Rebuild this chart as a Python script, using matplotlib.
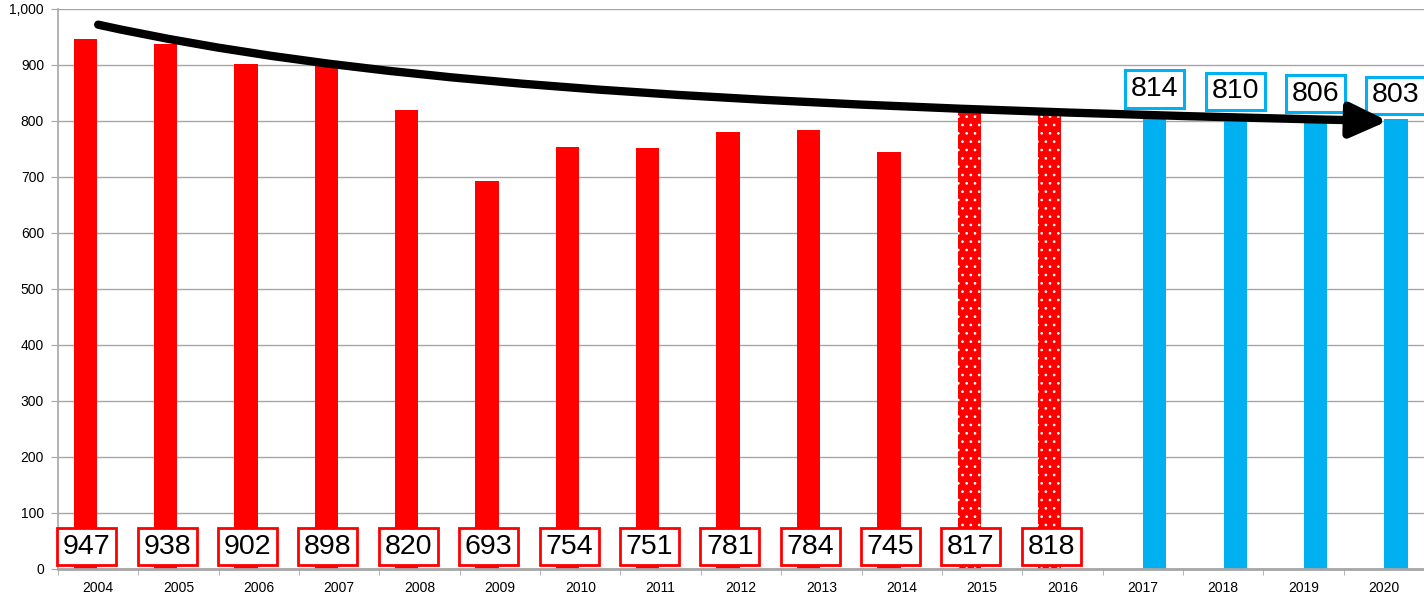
import numpy as np
import matplotlib
matplotlib.use("Agg")
from matplotlib import pyplot as plt
from matplotlib.path import Path
from matplotlib.patches import FancyArrowPatch

# yearly values: measured (red) and projected (blue)
years = ["2004", "2005", "2006", "2007", "2008", "2009", "2010", "2011", "2012",
         "2013", "2014", "2015", "2016", "2017", "2018", "2019", "2020"]
actual = [947, 938, 902, 898, 820, 693, 754, 751, 781, 784, 745, 817, 818]
forecast = [814, 810, 806, 803]
estimated_years = ["2015", "2016"]  # drawn dotted

# trend arrow anchors (start, two control points, end) in data units
trend_x = [0.0, 3.0, 7.0, 16.05]
trend_y = [972, 878, 828, 800]

RED = "#FF0000"
BLUE = "#00B0F0"
GRID = "#A6A6A6"

plt.rcParams["font.family"] = ["Liberation Sans", "DejaVu Sans"]
plt.rcParams["hatch.linewidth"] = 0.7

fig = plt.figure(figsize=(14.24, 5.97), dpi=100)
ax = fig.add_axes([58 / 1424, 28 / 597, 1366 / 1424, 560 / 597])

x = np.arange(len(years))
n_act = len(actual)
red_x = x[:n_act] - 0.16
blue_x = x[n_act:] + 0.15
w = 0.29

bars = ax.bar(red_x, actual, width=w, color=RED, zorder=2)
for b, yr in zip(bars, years[:n_act]):
    if yr in estimated_years:
        b.set_hatch("..")
        b.set_edgecolor("white")
        b.set_linewidth(0)
ax.bar(blue_x, forecast, width=w, color=BLUE, zorder=2)

# value boxes: red ones sit on the baseline, blue ones above the bars
for xi, v in zip(red_x, actual):
    ax.text(xi + 0.02, 40, str(v), ha="center", va="center", fontsize=20.5,
            color="black", zorder=5,
            bbox=dict(boxstyle="square,pad=0.2", fc="white", ec=RED, lw=2))
for xi, v in zip(blue_x, forecast):
    ax.annotate(str(v), (xi, v), xytext=(0, 8), textcoords="offset points",
                ha="center", va="bottom", fontsize=20.5, color="black", zorder=5,
                bbox=dict(boxstyle="square,pad=0.2", fc="white", ec=BLUE, lw=2.2))

# curved trend arrow
verts = list(zip(trend_x, trend_y))
trend = Path(verts, [Path.MOVETO, Path.CURVE4, Path.CURVE4, Path.CURVE4])
arrow = FancyArrowPatch(path=trend, arrowstyle="-|>,head_length=1.4,head_width=0.65",
                        mutation_scale=16, lw=6, color="black",
                        capstyle="round", joinstyle="round", zorder=6)
ax.add_patch(arrow)

ax.set_xlim(-0.5, len(years) - 0.5)
ax.set_ylim(0, 1000)
ax.set_yticks(np.arange(0, 1001, 100))
ax.yaxis.set_major_formatter(matplotlib.ticker.StrMethodFormatter("{x:,.0f}"))
ax.set_xticks(x)
ax.set_xticklabels(years)
ax.set_xticks(np.arange(-0.5, len(years), 1), minor=True)

ax.grid(axis="y", color=GRID, lw=1, zorder=0)
ax.set_axisbelow(True)
for s in ["top", "right"]:
    ax.spines[s].set_visible(False)
for s in ["left", "bottom"]:
    ax.spines[s].set_color(GRID)
    ax.spines[s].set_linewidth(1.2)
ax.spines["bottom"].set_linewidth(2)

ax.tick_params(axis="x", which="major", length=0, pad=9, labelsize=10)
ax.tick_params(axis="x", which="minor", length=4, color=GRID)
ax.tick_params(axis="y", length=5, color=GRID, pad=5, labelsize=10)

fig.savefig("out.png", dpi=100)
